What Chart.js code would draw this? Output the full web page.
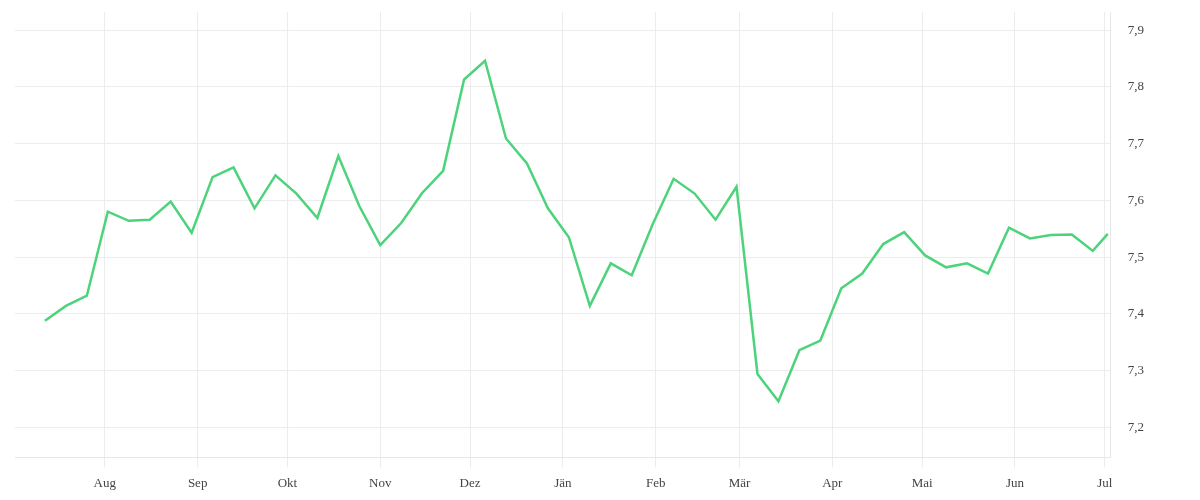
<!DOCTYPE html>
<html>
<head>
<meta charset="utf-8">
<script src="https://cdn.jsdelivr.net/npm/chart.js@4/dist/chart.umd.min.js"></script>
<style>
    html, body { margin: 0; padding: 0; background: #fff; }
    #wrap { width: 1200px; height: 500px; position: relative; }
</style>
</head>
<body>
<div id="wrap"><canvas id="chart"></canvas></div>
<script>
// weekly readings, last one is a partial week
const dates = [
    '2022-07-12', '2022-07-19', '2022-07-26', '2022-08-02', '2022-08-09', '2022-08-16',
    '2022-08-23', '2022-08-30', '2022-09-06', '2022-09-13', '2022-09-20', '2022-09-27',
    '2022-10-04', '2022-10-11', '2022-10-18', '2022-10-25', '2022-11-01', '2022-11-08',
    '2022-11-15', '2022-11-22', '2022-11-29', '2022-12-06', '2022-12-13', '2022-12-20',
    '2022-12-27', '2023-01-03', '2023-01-10', '2023-01-17', '2023-01-24', '2023-01-31',
    '2023-02-07', '2023-02-14', '2023-02-21', '2023-02-28', '2023-03-07', '2023-03-14',
    '2023-03-21', '2023-03-28', '2023-04-04', '2023-04-11', '2023-04-18', '2023-04-25',
    '2023-05-02', '2023-05-09', '2023-05-16', '2023-05-23', '2023-05-30', '2023-06-06',
    '2023-06-13', '2023-06-20', '2023-06-27', '2023-07-02'
];
const values = [
    7.388, 7.414, 7.432, 7.580, 7.564, 7.566, 7.598, 7.543, 7.641, 7.658,
    7.586, 7.644, 7.612, 7.569, 7.678, 7.590, 7.521, 7.560, 7.613, 7.652,
    7.813, 7.846, 7.709, 7.665, 7.586, 7.535, 7.414, 7.489, 7.468, 7.558,
    7.638, 7.612, 7.566, 7.624, 7.294, 7.246, 7.336, 7.353, 7.445, 7.471,
    7.523, 7.544, 7.503, 7.482, 7.489, 7.471, 7.552, 7.533, 7.539, 7.540,
    7.511, 7.541
];

const monthStarts = ['2022-08-01', '2022-09-01', '2022-10-01', '2022-11-01', '2022-12-01', '2023-01-01',
    '2023-02-01', '2023-03-01', '2023-04-01', '2023-05-01', '2023-06-01', '2023-07-01'];
const monthLabels = ['Aug', 'Sep', 'Okt', 'Nov', 'Dez', 'Jän', 'Feb', 'Mär', 'Apr', 'Mai', 'Jun', 'Jul'];
const yTicks = [7.2, 7.3, 7.4, 7.5, 7.6, 7.7, 7.8, 7.9];

// days since 2022-08-01, linear x axis stands in for a time axis
const origin = Date.UTC(2022, 7, 1);
function dayOf(s) {
    const p = s.split('-').map(Number);
    return (Date.UTC(p[0], p[1] - 1, p[2]) - origin) / 86400000;
}

const points = dates.map((d, i) => ({ x: dayOf(d), y: values[i] }));
const monthDays = monthStarts.map(dayOf);

const font = { family: '"Liberation Serif", serif', size: 13 };

new Chart(document.getElementById('chart'), {
    type: 'line',
    data: {
        datasets: [{
            data: points,
            borderColor: '#4cd37b',
            borderWidth: 2.5,
            pointRadius: 0,
            tension: 0,
            fill: false
        }]
    },
    options: {
        responsive: true,
        maintainAspectRatio: false,
        animation: false,
        layout: { padding: { left: 15, top: 12, right: 39, bottom: 1 } },
        plugins: {
            legend: { display: false },
            tooltip: { enabled: false }
        },
        scales: {
            x: {
                type: 'linear',
                min: dayOf('2022-07-02'),
                max: dayOf('2023-07-03'),
                afterBuildTicks: scale => {
                    scale.ticks = monthDays.map(v => ({ value: v }));
                },
                afterFit: scale => {
                    scale.paddingLeft = 0;
                    scale.paddingRight = 0;
                },
                ticks: {
                    color: '#444',
                    font: font,
                    padding: 8,
                    maxRotation: 0,
                    autoSkip: false,
                    callback: (v, i) => monthLabels[i]
                },
                grid: { color: '#ececec', tickLength: 10 },
                border: { color: '#e6e6e6' }
            },
            y: {
                position: 'right',
                min: 7.147,
                max: 7.932,
                afterBuildTicks: scale => {
                    scale.ticks = yTicks.map(v => ({ value: v }));
                },
                afterFit: scale => {
                    scale.paddingTop = 0;
                    scale.paddingBottom = 0;
                },
                ticks: {
                    color: '#444',
                    font: font,
                    padding: 17,
                    callback: v => v.toFixed(1).replace('.', ',')
                },
                grid: { color: '#ececec', drawTicks: false },
                border: { color: '#e6e6e6' }
            }
        }
    }
});
</script>
</body>
</html>
